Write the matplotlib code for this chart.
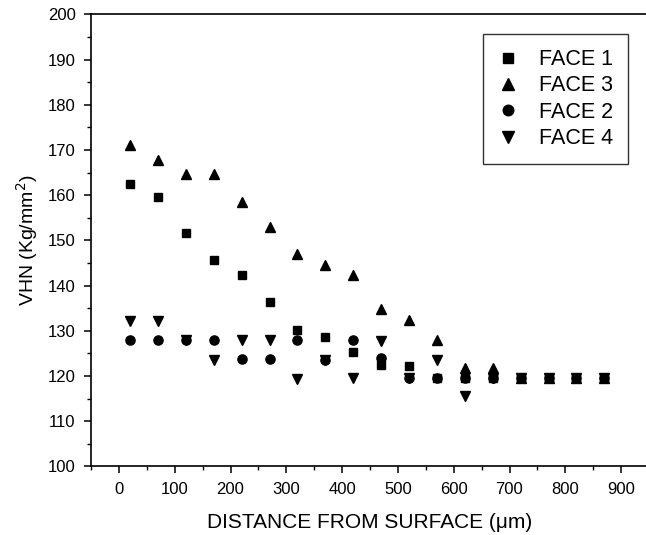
import matplotlib
matplotlib.use("Agg")
import matplotlib.pyplot as plt
from matplotlib.ticker import MultipleLocator

plt.rcParams['font.family'] = ['Liberation Sans', 'DejaVu Sans']

distance = [20, 70, 120, 170, 220, 270, 320, 370, 420, 470, 520, 570, 620, 670, 720, 770, 820, 870]
face1 = [162.5, 159.5, 151.7, 145.7, 142.4, 136.4, 130.2, 128.6, 125.2, 122.4, 122.2, 119.6, 119.6, 119.6, 119.6, 119.6, 119.6, 119.6]
face3 = [171.1, 167.8, 164.6, 164.6, 158.4, 152.9, 147.1, 144.6, 142.3, 134.8, 132.4, 128.0, 121.8, 121.8, 119.6, 119.6, 119.6, 119.6]
face2 = [128.0, 128.0, 128.0, 128.0, 123.7, 123.7, 128.0, 123.6, 128.0, 123.9, 119.6, 119.6, 119.6, 119.6, 119.6, 119.6, 119.6, 119.6]
face4 = [132.2, 132.2, 128.0, 123.5, 128.0, 128.0, 119.4, 123.5, 119.5, 127.8, 119.6, 123.5, 115.6, 119.6, 119.6, 119.6, 119.6, 119.6]

W, H = 646, 535
fig = plt.figure(figsize=(W / 100, H / 100), dpi=100)
ax = fig.add_axes([91 / W, (H - 466.4) / H, 558 / W, 452 / H])

ax.plot(distance, face1, linestyle='none', marker='s', ms=6.4, color='black', label='FACE 1')
ax.plot(distance, face3, linestyle='none', marker='^', ms=7.6, color='black', label='FACE 3')
ax.plot(distance, face2, linestyle='none', marker='o', ms=6.6, color='black', label='FACE 2')
ax.plot(distance, face4, linestyle='none', marker='v', ms=7.6, color='black', label='FACE 4')

ax.set_xlim(-50, 950)
ax.set_ylim(100, 200)
ax.xaxis.set_major_locator(MultipleLocator(100))
ax.xaxis.set_minor_locator(MultipleLocator(50))
ax.yaxis.set_major_locator(MultipleLocator(10))
ax.yaxis.set_minor_locator(MultipleLocator(5))
ax.set_xticks(range(0, 1000, 100))
for s in ax.spines.values():
    s.set_linewidth(1.2)
ax.tick_params(which='major', direction='out', length=5, width=1.1, labelsize=12, pad=6)
ax.tick_params(which='minor', direction='out', length=3, width=1.0)

ax.set_xlabel('DISTANCE FROM SURFACE (\u03bcm)', fontsize=15, labelpad=12)
ax.set_ylabel('VHN (Kg/mm$^2$)', fontsize=14, labelpad=6)

leg = ax.legend(loc='upper left', bbox_to_anchor=(483 / W, 1 - 34 / H), bbox_transform=fig.transFigure,
                fontsize=15.5, frameon=True, fancybox=False, edgecolor='black', borderpad=0.7,
                labelspacing=0.25, handlelength=0.93, handletextpad=0.98, markerscale=1.15,
                borderaxespad=0)
leg.get_frame().set_linewidth(1.0)

fig.savefig('out.png', dpi=100)
